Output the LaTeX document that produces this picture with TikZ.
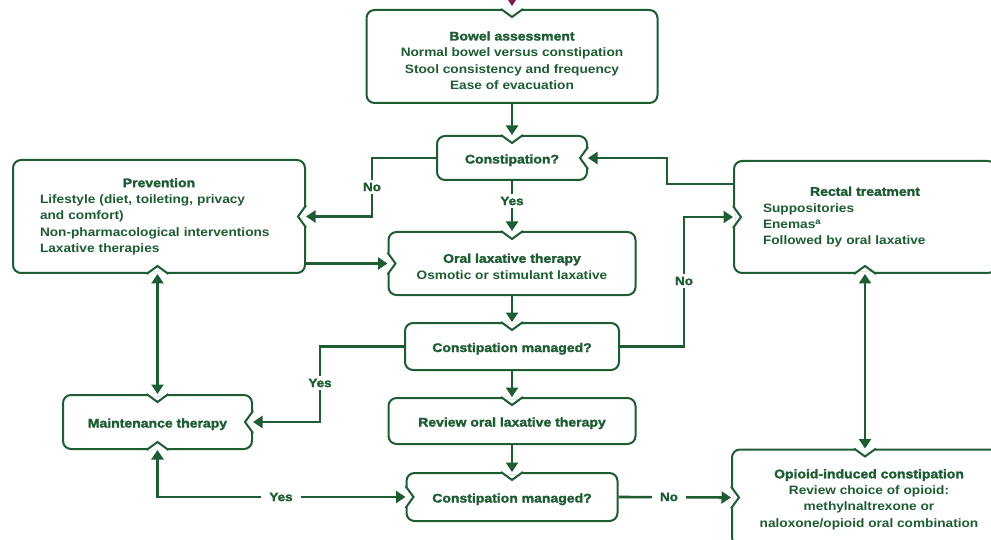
\documentclass[tikz,border=0pt]{standalone}
\usepackage{fontspec}
\setmainfont{Liberation Sans}[FakeStretch=1.12]
\newfontfamily\bodyfam{Liberation Sans Bold}[FakeStretch=1.12]
\newfontfamily\headfam{Liberation Sans Bold}[FakeStretch=1.12,FakeBold=2]
\usetikzlibrary{arrows.meta,calc}
\definecolor{G}{RGB}{30,92,50}
\definecolor{M}{RGB}{125,25,75}
\newcommand\hdfont{\headfam\fontsize{12.5}{16.3}\selectfont}
\newcommand\bdfont{\bodyfam\fontsize{12.2}{16.3}\selectfont}
\newcommand\lblfont{\headfam\fontsize{12}{14}\selectfont}
\tikzset{
  box/.style={draw=G, line width=2pt, rounded corners=8pt, fill=white, inner sep=0pt, text=G},
  one/.style={text height=11pt, text depth=0pt},
  notchln/.style={draw=G, line width=2pt, line join=miter},
  arr/.style={draw=G, line width=2.6pt, -{Triangle[length=9.5pt,width=12pt]}},
  arrtwo/.style={draw=G, line width=2.6pt, {Triangle[length=9.5pt,width=12pt]}-{Triangle[length=9.5pt,width=12pt]}},
  lbl/.style={fill=white, text=G, font=\lblfont, inner sep=3pt}
}
\newcommand\nT[1]{\fill[white] ($(#1)+(-10,-2)$) rectangle ($(#1)+(10,2)$); \draw[notchln] ($(#1)+(-11,0)$) -- ++(11,8) -- ++(11,-8);}
\newcommand\nB[1]{\fill[white] ($(#1)+(-10,-2)$) rectangle ($(#1)+(10,2)$); \draw[notchln] ($(#1)+(-11,0)$) -- ++(11,-8) -- ++(11,8);}
\newcommand\nL[1]{\fill[white] ($(#1)+(-2,-10)$) rectangle ($(#1)+(2,10)$); \draw[notchln] ($(#1)+(0,-11)$) -- ++(8,11) -- ++(-8,11);}
\newcommand\nR[1]{\fill[white] ($(#1)+(-2,-10)$) rectangle ($(#1)+(2,10)$); \draw[notchln] ($(#1)+(0,-11)$) -- ++(-8,11) -- ++(8,11);}
\begin{document}
\begin{tikzpicture}[x=1pt,y=-1pt]
\useasboundingbox (0,0) rectangle (991,540);
% boxes
\node[box, minimum width=291pt, minimum height=93pt, align=center, font=\bdfont] (A) at (512,56.5)
  {\rule{0pt}{17pt}{\hdfont Bowel assessment}\\Normal bowel versus constipation\\Stool consistency and frequency\\Ease of evacuation};
\node[box, one, minimum width=150pt, minimum height=44pt, font=\hdfont] (B) at (512,158) {Constipation?};
\node[box, minimum width=292pt, minimum height=113pt, text width=238pt, align=left, font=\bdfont] (C) at (159,216.5)
  {{\centering\hdfont Prevention\par}Lifestyle (diet, toileting, privacy\\and comfort)\\Non-pharmacological interventions\\Laxative therapies};
\node[box, minimum width=262pt, minimum height=112pt, text width=204pt, align=left, font=\bdfont] (D) at (865,217)
  {{\centering\hdfont Rectal treatment\par}Suppositories\\Enemas\textsuperscript{a}\\Followed by oral laxative};
\node[box, minimum width=247pt, minimum height=63pt, align=center, font=\bdfont] (E) at (512,263.5)
  {\rule{0pt}{15pt}{\hdfont Oral laxative therapy}\\Osmotic or stimulant laxative};
\node[box, one, minimum width=214pt, minimum height=47pt, font=\hdfont] (F) at (512,346.5) {Constipation managed?};
\node[box, one, minimum width=247pt, minimum height=46pt, font=\hdfont] (G) at (512,421) {Review oral laxative therapy};
\node[box, one, minimum width=211pt, minimum height=48pt, font=\hdfont] (H) at (512,497) {Constipation managed?};
\node[box, one, minimum width=189pt, minimum height=54pt, font=\hdfont] (I) at (157.5,422) {Maintenance therapy};
\node[box, minimum width=274pt, minimum height=96pt, align=center, font=\bdfont] (J) at (869,497.5)
  {\rule{0pt}{13pt}{\hdfont Opioid-induced constipation}\\Review choice of opioid:\\methylnaltrexone or\\naloxone/opioid oral combination};
% helper coordinates
\coordinate (cb) at (I.north |- C.south);
\coordinate (jt) at (D.south |- J.north);
\coordinate (top) at (512,-6);
\coordinate (kno) at (372,0);
\coordinate (kre) at (667,0);
\coordinate (kye) at (320,0);
\coordinate (kn2) at (684,0);
\coordinate (rout) at ($(D.north west)+(0,24)$);
% notches
\nT{A.north}
\nT{B.north} \nR{B.east}
\nR{C.east} \nB{cb}
\nL{D.west} \nB{D.south}
\nT{E.north} \nL{E.west}
\nT{F.north}
\nT{G.north}
\nT{H.north} \nL{H.west}
\nT{I.north} \nR{I.east} \nB{I.south}
\nT{jt} \nL{J.west}
% connectors
\draw[arr, draw=M, shorten >=3pt] (top) -- (A.north);
\draw[arr] (A.south) -- (B.north);
\draw[arr] (B.south) -- (E.north);
\draw[arr] (B.west) -| (kno |- C.east) -- (C.east);
\draw[arr] (rout) -| (kre |- B.east) -- (B.east);
\draw[arr] (C.east |- E.west) -- (E.west);
\draw[arr] (E.south) -- (F.north);
\draw[arr] (F.south) -- (G.north);
\draw[arr] (G.south) -- (H.north);
\draw[arr] (F.west) -| (kye |- I.east) -- (I.east);
\draw[arr] (F.east) -| (kn2 |- D.west) -- (D.west);
\draw[arrtwo] (I.south) |- (H.west);
\draw[arr] (H.east) -- (J.west);
\draw[arrtwo] (cb) -- (I.north);
\draw[arrtwo] (D.south) -- (jt);
% labels
\node[lbl] (l1) at (372,187) {No};
\node[lbl] (l2) at (512,201) {Yes};
\node[lbl] (l3) at (320,383) {Yes};
\node[lbl] (l4) at (684,281) {No};
\node[lbl, inner xsep=8pt] (l5) at (281,497) {Yes};
\node[lbl, inner xsep=8pt] (l6) at (669,497) {No};
\end{tikzpicture}
\end{document}
